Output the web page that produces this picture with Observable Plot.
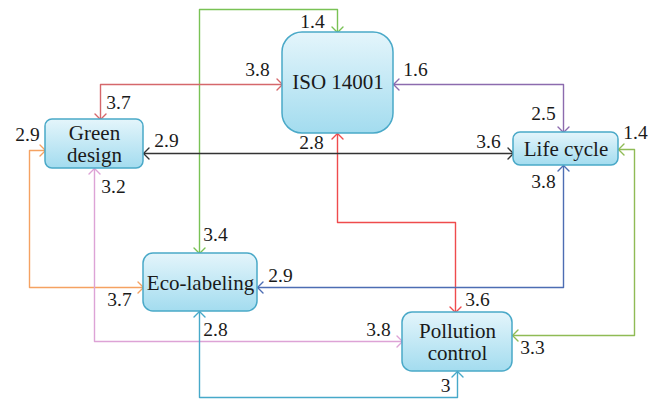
<!DOCTYPE html>
<html><head><meta charset="utf-8">
<script src="https://cdn.jsdelivr.net/npm/d3@7"></script>
<script src="https://cdn.jsdelivr.net/npm/@observablehq/plot@0.6"></script>
<style>body{margin:0;background:#fff} #fontwarm{position:absolute;left:-9999px;top:0;font-family:"Liberation Serif";font-size:20px}</style>
</head><body><span id="fontwarm">3.8 Eco-labeling</span><div id="chart"></div>
<script>
// ---- data ----
const nodeNames = ["ISO 14001", "Green\ndesign", "Life cycle", "Eco-labeling", "Pollution\ncontrol"];
const edgeFrom  = ["Eco-labeling", "Green\ndesign", "ISO 14001", "Green\ndesign", "ISO 14001", "Life cycle", "Life cycle", "Green\ndesign", "Green\ndesign", "Eco-labeling"];
const edgeTo    = ["ISO 14001", "ISO 14001", "Pollution\ncontrol", "Life cycle", "Life cycle", "Eco-labeling", "Pollution\ncontrol", "Eco-labeling", "Pollution\ncontrol", "Pollution\ncontrol"];
const valueFrom = [3.4, 3.7, 2.8, 2.9, 1.6, 3.8, 1.4, 2.9, 3.2, 2.8];
const valueTo   = [1.4, 3.8, 3.6, 3.6, 2.5, 2.9, 3.3, 3.7, 3.8, 3];

// ---- layout (positions & styles) ----
const boxes = {
  "ISO 14001":         {x1: 282, x2: 393, y1: 32,  y2: 133, r: 20, ty: 81},
  "Green\ndesign":     {x1: 45,  x2: 143, y1: 119, y2: 168, r: 7,  ty: 143},
  "Life cycle":        {x1: 513, x2: 618, y1: 132, y2: 165, r: 7,  ty: 148},
  "Eco-labeling":      {x1: 143, x2: 257, y1: 253, y2: 311, r: 10, ty: 282},
  "Pollution\ncontrol":{x1: 402, x2: 512, y1: 312, y2: 371, r: 10, ty: 341}
};
const edgeLayout = [
  {color: "#79c255", path: [[199,253],[199,9],[337,9],[337,32]],     lf: [215,234], lt: [312,21]},
  {color: "#d5676b", path: [[100,119],[100,84],[282,84]],            lf: [118,102], lt: [257,69]},
  {color: "#ef4b4d", path: [[337,133],[337,222],[455,222],[455,312]], lf: [311,142], lt: [477,299]},
  {color: "#333333", path: [[143,153],[513,153]],                    lf: [166,140], lt: [488,141]},
  {color: "#8c6bae", path: [[393,84],[563,84],[563,132]],            lf: [415,69],  lt: [543,113]},
  {color: "#4d6db3", path: [[563,165],[563,287],[257,287]],          lf: [543,181], lt: [280,275]},
  {color: "#8fbb55", path: [[618,149],[634,149],[634,335],[512,335]], lf: [635,132], lt: [532,347]},
  {color: "#f5a262", path: [[45,150],[29,150],[29,287],[143,287]],   lf: [27,134],  lt: [119,299]},
  {color: "#dda3d6", path: [[94,168],[94,341],[402,341]],            lf: [113,186], lt: [378,329]},
  {color: "#47a9c9", path: [[199,311],[199,397],[457,397],[457,371]], lf: [215,329], lt: [445,385]}
];
const FONT = "Liberation Serif";

// ---- derived tables ----
const boxRows = nodeNames.map(n => ({name: n, ...boxes[n], tx: (boxes[n].x1 + boxes[n].x2) / 2}));
const lineRows = [], arrowRows = [], labelRows = [];
edgeFrom.forEach((f, i) => {
  const L = edgeLayout[i];
  L.path.forEach(([x, y]) => lineRows.push({id: i, x, y, color: L.color}));
  const ends = [[L.path[0], L.path[1]], [L.path[L.path.length - 1], L.path[L.path.length - 2]]];
  ends.forEach(([tip, prev], k) => {
    const dx = Math.sign(tip[0] - prev[0]), dy = Math.sign(tip[1] - prev[1]);
    const len = 5.5, half = 5.5;
    const bx = tip[0] - dx * len, by = tip[1] - dy * len;
    const pts = [[bx - dy * half, by + dx * half], tip, [bx + dy * half, by - dx * half]];
    pts.forEach(([x, y]) => arrowRows.push({id: i * 2 + k, x, y, color: L.color}));
  });
  labelRows.push({x: L.lf[0], y: L.lf[1], text: String(valueFrom[i])});
  labelRows.push({x: L.lt[0], y: L.lt[1], text: String(valueTo[i])});
});

const radii = Array.from(new Set(boxRows.map(d => d.r)));
const svg = Plot.plot({
  width: 661, height: 400,
  margin: 0,
  x: {domain: [0, 661], range: [0, 661], axis: null},
  y: {domain: [0, 400], range: [0, 400], axis: null},
  marks: [
    Plot.line(lineRows, {x: "x", y: "y", z: "id", stroke: "color", strokeWidth: 1.4, curve: "linear"}),
    Plot.line(arrowRows, {x: "x", y: "y", z: "id", stroke: "color", strokeWidth: 1.4, strokeLinejoin: "miter"}),
    ...radii.map(r => Plot.rect(boxRows.filter(d => d.r === r), {x1: "x1", x2: "x2", y1: "y1", y2: "y2", rx: r, ry: r, fill: "url(#boxgrad)", stroke: "#4aa9c8", strokeWidth: 1.5})),
    Plot.text(boxRows, {x: "tx", y: "ty", text: "name", fontSize: 21, lineHeight: 1.05, fill: "#1a1a1a", fontFamily: FONT}),
    Plot.text(labelRows, {x: "x", y: "y", text: "text", fontSize: 19.5, fill: "#1a1a1a", fontFamily: FONT})
  ]
});
const defs = d3.select(svg).insert("defs", ":first-child");
const g = defs.append("linearGradient").attr("id", "boxgrad").attr("x1", 0).attr("y1", 0).attr("x2", 0).attr("y2", 1);
g.append("stop").attr("offset", "0%").attr("stop-color", "#e4f5fb");
g.append("stop").attr("offset", "100%").attr("stop-color", "#a3dcef");
document.getElementById("chart").appendChild(svg);
// force font resolution before the snapshot
const warm = document.getElementById("fontwarm").getBoundingClientRect().width;
svg.querySelectorAll("text").forEach(t => { getComputedStyle(t).fontFamily; t.getBBox(); });
if (document.fonts && document.fonts.load) document.fonts.load("20px 'Liberation Serif'");
</script></body></html>
